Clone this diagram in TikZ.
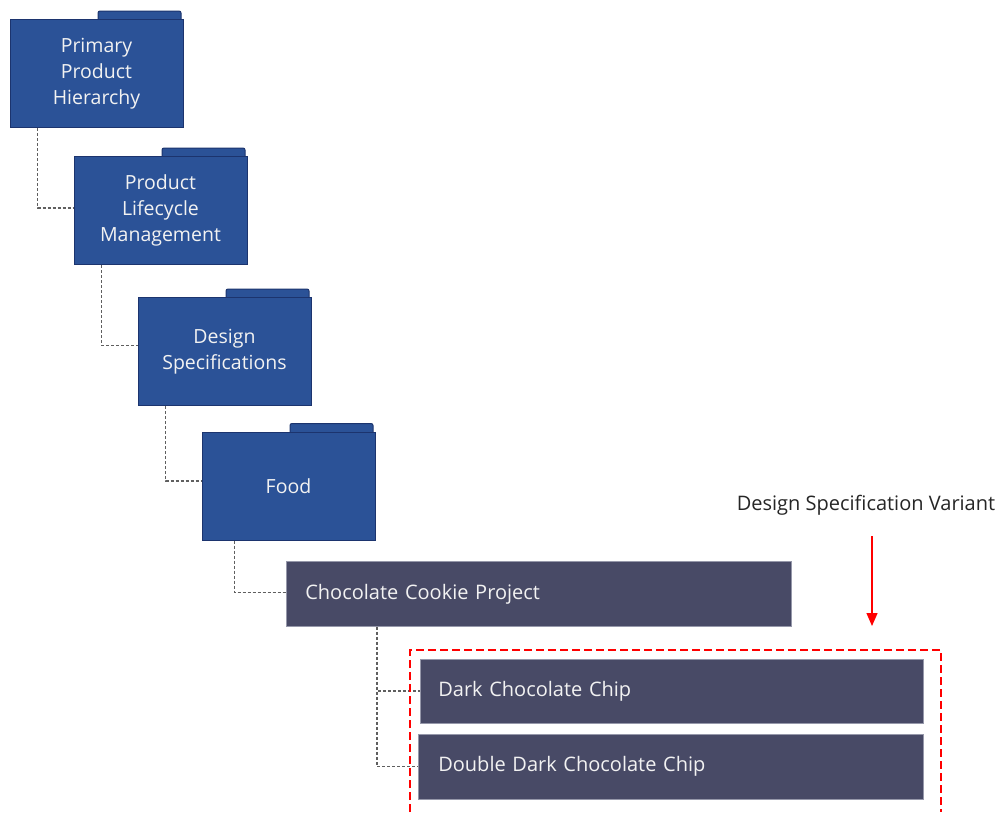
\documentclass[tikz,border=0pt]{standalone}
\usepackage{fontspec}
\setmainfont{Open Sans}
\usetikzlibrary{arrows.meta,calc}
\definecolor{folderblue}{RGB}{43,82,151}
\definecolor{folderedge}{RGB}{28,52,110}
\definecolor{slate}{RGB}{72,74,102}
\definecolor{slateedge}{RGB}{150,152,170}
\definecolor{conngray}{RGB}{95,95,95}
\definecolor{textwhite}{RGB}{242,242,242}
\tikzset{
  folder/.style={draw=folderedge, line width=1pt, fill=folderblue, minimum width=173pt, minimum height=108pt,
    text=textwhite, align=center, font=\fontsize{19.5}{26}\selectfont, inner sep=0pt},
  foldertab/.style={draw=folderedge, line width=1pt, fill=folderblue, rounded corners=2pt},
  itembox/.style={draw=slateedge, line width=0.6pt, fill=slate, minimum height=65pt, text=textwhite,
    anchor=west, font=\fontsize{20}{24}\selectfont, inner sep=0pt, text width=480pt, align=left},
  conn/.style={draw=conngray, line width=1.2pt, dash pattern=on 3pt off 2pt},
  variantbox/.style={draw=red, line width=1.4pt, dash pattern=on 8pt off 4pt},
  variantarrow/.style={draw=red, line width=1.3pt, -{Triangle[width=11pt,length=13pt]}, fill=red},
  lbltext/.style={text=black!85, font=\fontsize{20}{24}\selectfont, inner sep=0pt}
}
\begin{document}
\begin{tikzpicture}[x=1pt,y=-1pt]
\useasboundingbox[fill=white] (0,0) rectangle (1001,812);
% folders (tabs first)
\path (96.5,73.5) coordinate (c1) (160.5,210.5) coordinate (c2) (224.5,351.5) coordinate (c3) (288.5,486) coordinate (c4);
\foreach \c in {c1,c2,c3,c4}{
  \path[foldertab] ($(\c)+(1.5,-50)$) rectangle ($(\c)+(84.5,-54.5-8)$);
}
\node[folder] (f1) at (c1) {Primary\\Product\\Hierarchy};
\node[folder] (f2) at (c2) {Product\\Lifecycle\\Management};
\node[folder] (f3) at (c3) {Design\\Specifications};
\node[folder] (f4) at (c4) {Food};
% items
\node[itembox, text width=505pt] (cookie) at (286,594) {\hspace*{19pt}Chocolate Cookie Project};
\node[itembox, text width=503pt, minimum height=64pt] (dark) at (420,691) {\hspace*{18pt}Dark Chocolate Chip};
\node[itembox, text width=505pt] (double) at (418,766.5) {\hspace*{20pt}Double Dark Chocolate Chip};
% connectors
\draw[conn] ([xshift=28pt]f1.south west) |- ([yshift=2.5pt]f2.west);
\draw[conn] ([xshift=28pt]f2.south west) |- ([yshift=6pt]f3.west);
\draw[conn] ([xshift=28pt]f3.south west) |- ([yshift=5pt]f4.west);
\draw[conn] ([xshift=33pt]f4.south west) |- ([yshift=1.5pt]cookie.west);
\draw[conn] ([xshift=91pt]cookie.south west) |- (dark.west);
\draw[conn] ([xshift=91pt]cookie.south west) |- (double.west);
% variant box and label
\coordinate (vb1) at (410,812);
\coordinate (vb2) at (941,650);
\coordinate (vb3) at (941,812);
\draw[variantbox] (vb1) |- (vb2) -- (vb3);
\node[lbltext] (lbl) at (866,505) {Design Specification Variant};
\coordinate (arrs) at (872,536);
\coordinate (arre) at (872,626);
\draw[variantarrow] (arrs) -- (arre);
\end{tikzpicture}
\end{document}
